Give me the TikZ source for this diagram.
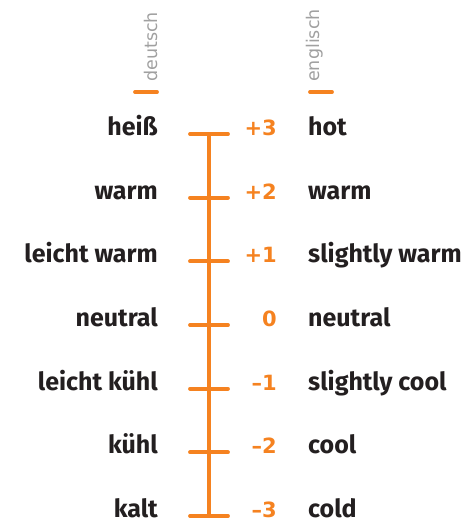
\documentclass[tikz,border=0pt]{standalone}
\usepackage{fontspec}
\setmainfont{Fira Sans}
\newfontfamily\numfont{DejaVu Sans}
\newfontfamily\hdrfont{DejaVu Sans}
\definecolor{scaleorange}{RGB}{245,130,32}
\definecolor{txtdark}{RGB}{35,31,32}
\definecolor{hdrgray}{RGB}{160,160,160}
\begin{document}
\begin{tikzpicture}[x=1pt,y=-1pt,
  lbl/.style={font=\fontsize{25}{29}\selectfont\bfseries, text=txtdark, inner sep=0pt},
  num/.style={font=\numfont\fontsize{21}{25}\selectfont\bfseries, text=scaleorange, inner sep=0pt},
  hdr/.style={font=\hdrfont\fontsize{17.5}{20}\selectfont, text=hdrgray, rotate=90, inner sep=0pt},
  tickline/.style={draw=scaleorange, line width=3.8pt, line cap=round},
  axisline/.style={draw=scaleorange, line width=4pt}]
\useasboundingbox (0,0) rectangle (466,524);
% headers
\node[hdr, anchor=base west] (hde) at (157,82) {deutsch};
\node[hdr, anchor=north west] (hen) at (306,82) {englisch};
\draw[tickline] (135,92) -- (157,92);
\draw[tickline] (310,92) -- (332,92);
% axis
\coordinate (top) at (209,134);
\coordinate (bot) at (209,516);
\draw[axisline] (top) -- (bot);
\foreach \i/\de/\n/\en in {0/heiß/+3/hot, 1/warm/+2/warm, 2/leicht warm/+1/slightly warm, 3/neutral/0/neutral, 4/leicht kühl/–1/slightly cool, 5/kühl/–2/cool, 6/kalt/–3/cold}{
  \pgfmathsetmacro{\yy}{134+\i*63.67}
  \coordinate (t\i) at (209,\yy);
  \draw[tickline] ([xshift=-19pt]t\i) -- ([xshift=19pt]t\i);
  \node[lbl, anchor=base east] (de\i) at (158,\yy+1.5) {\de};
  \node[num, anchor=base east] (n\i) at (277,\yy+1.5) {\n};
  \node[lbl, anchor=base west] (en\i) at (308,\yy+1.5) {\en};
}
\end{tikzpicture}
\end{document}
